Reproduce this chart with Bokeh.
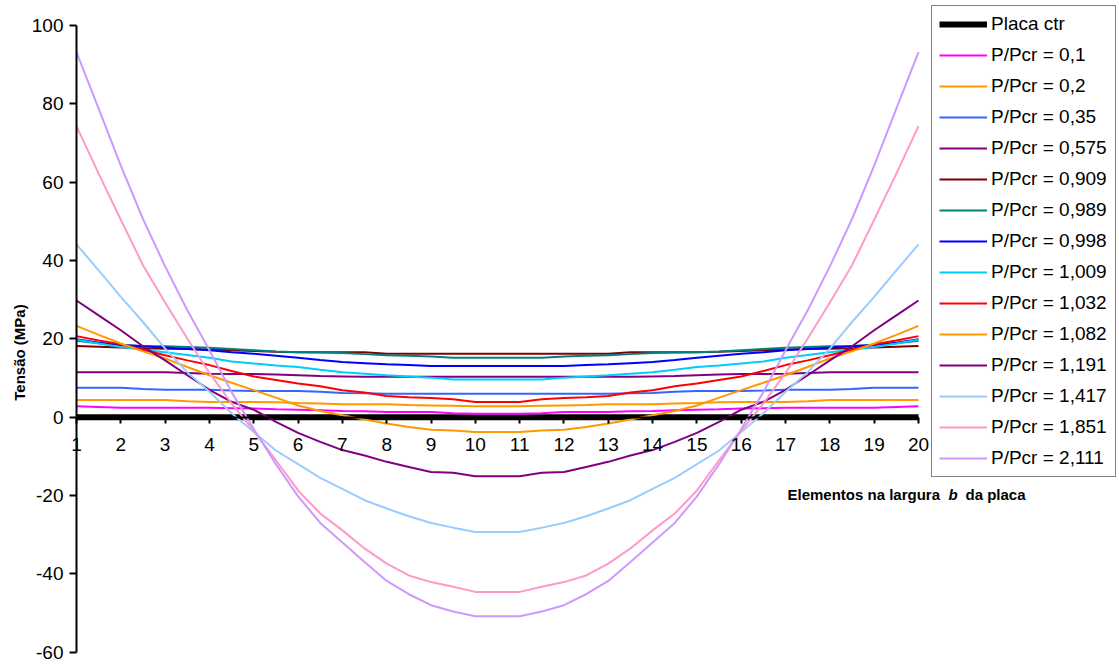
from math import pi
from bokeh.plotting import figure
from bokeh.models import (LinearAxis, FixedTicker, Legend, LegendItem, Label, Range1d)
from bokeh.embed import file_html
from bokeh.resources import INLINE

# ---------------- data ----------------
x_nodes = [1, 1.5, 2, 2.5, 3, 3.5, 4, 4.5, 5, 5.5, 6, 6.5, 7, 7.5, 8, 8.5, 9, 9.5, 10,
           10.5, 11, 11.5, 12, 12.5, 13, 13.5, 14, 14.5, 15, 15.5, 16, 16.5, 17, 17.5,
           18, 18.5, 19, 19.5, 20]

placa_x = [1, 20]
placa_y = [0, 0]

s_0100 = [2.8, 2.6, 2.4, 2.4, 2.4, 2.4, 2.4, 2.3, 2.2, 2.0, 1.9, 1.8, 1.6, 1.5, 1.3, 1.3, 1.3, 1.0, 0.9,
          0.9,
          0.9, 1.0, 1.3, 1.3, 1.3, 1.5, 1.6, 1.8, 1.9, 2.0, 2.2, 2.3, 2.4, 2.4, 2.4, 2.4, 2.4, 2.6, 2.8]
s_0200 = [4.4, 4.4, 4.4, 4.4, 4.4, 4.1, 3.9, 3.9, 3.9, 3.8, 3.6, 3.5, 3.3, 3.3, 3.3, 3.1, 3.0, 2.9, 2.8,
          2.8,
          2.8, 2.9, 3.0, 3.1, 3.3, 3.3, 3.3, 3.5, 3.6, 3.8, 3.9, 3.9, 3.9, 4.1, 4.4, 4.4, 4.4, 4.4, 4.4]
s_0350 = [7.5, 7.5, 7.5, 7.2, 7.0, 7.0, 7.0, 6.8, 6.7, 6.7, 6.7, 6.5, 6.2, 6.1, 6.0, 6.0, 6.0, 6.0, 6.0,
          6.0,
          6.0, 6.0, 6.0, 6.0, 6.0, 6.1, 6.2, 6.5, 6.7, 6.7, 6.7, 6.8, 7.0, 7.0, 7.0, 7.2, 7.5, 7.5, 7.5]
s_0575 = [11.5, 11.5, 11.5, 11.5, 11.5, 11.3, 11.1, 11.0, 11.0, 10.9, 10.7, 10.5, 10.4, 10.3, 10.3, 10.3, 10.3, 10.3, 10.3,
          10.3,
          10.3, 10.3, 10.3, 10.3, 10.3, 10.3, 10.4, 10.5, 10.7, 10.9, 11.0, 11.0, 11.1, 11.3, 11.5, 11.5, 11.5, 11.5, 11.5]
s_0909 = [18.2, 18.0, 17.8, 17.6, 17.5, 17.4, 17.3, 17.1, 16.9, 16.7, 16.6, 16.6, 16.6, 16.6, 16.2, 16.2, 16.2, 16.2, 16.2,
          16.2,
          16.2, 16.2, 16.2, 16.2, 16.2, 16.6, 16.6, 16.6, 16.6, 16.7, 16.9, 17.1, 17.3, 17.4, 17.5, 17.6, 17.8, 18.0, 18.2]
s_0989 = [19.5, 18.9, 18.4, 18.2, 18.1, 17.9, 17.7, 17.4, 17.1, 16.8, 16.6, 16.5, 16.4, 16.1, 15.8, 15.7, 15.5, 15.2, 15.2,
          15.2,
          15.2, 15.2, 15.5, 15.7, 15.8, 16.1, 16.4, 16.5, 16.6, 16.8, 17.1, 17.4, 17.7, 17.9, 18.1, 18.2, 18.4, 18.9, 19.5]
s_0998 = [19.9, 19.0, 18.4, 18.1, 17.8, 17.4, 17.1, 16.6, 16.2, 15.7, 15.2, 14.6, 14.1, 13.8, 13.5, 13.3, 13.1, 13.1, 13.1,
          13.1,
          13.1, 13.1, 13.1, 13.3, 13.5, 13.8, 14.1, 14.6, 15.2, 15.7, 16.2, 16.6, 17.1, 17.4, 17.8, 18.1, 18.4, 19.0, 19.9]
s_1009 = [19.8, 18.8, 17.9, 17.2, 16.6, 15.9, 15.2, 14.2, 13.7, 13.2, 12.8, 12.1, 11.5, 11.1, 10.7, 10.4, 10.1, 9.6, 9.6,
          9.6,
          9.6, 9.6, 10.1, 10.4, 10.7, 11.1, 11.5, 12.1, 12.8, 13.2, 13.7, 14.2, 15.2, 15.9, 16.6, 17.2, 17.9, 18.8, 19.8]
s_1032 = [20.7, 19.6, 18.6, 17.2, 15.8, 14.5, 13.3, 11.8, 10.4, 9.5, 8.6, 7.9, 6.9, 6.3, 5.4, 5.1, 4.9, 4.6, 3.9,
          3.9,
          3.9, 4.6, 4.9, 5.1, 5.4, 6.3, 6.9, 7.9, 8.6, 9.5, 10.4, 11.8, 13.3, 14.5, 15.8, 17.2, 18.6, 19.6, 20.7]
s_1082 = [23.3, 21.0, 18.8, 16.8, 15.0, 12.8, 10.7, 8.8, 6.9, 5.0, 3.0, 1.6, 0.5, -0.6, -1.6, -2.5, -3.2, -3.4, -3.8,
          -3.8,
          -3.8, -3.4, -3.2, -2.5, -1.6, -0.6, 0.5, 1.6, 3.0, 5.0, 6.9, 8.8, 10.7, 12.8, 15.0, 16.8, 18.8, 21.0, 23.3]
s_1191 = [29.8, 26.0, 22.2, 18.1, 14.5, 10.7, 7.0, 3.9, 1.9, -1.2, -4.0, -6.3, -8.4, -9.8, -11.4, -12.7, -14.0, -14.2, -15.1,
          -15.1,
          -15.1, -14.2, -14.0, -12.7, -11.4, -9.8, -8.4, -6.3, -4.0, -1.2, 1.9, 3.9, 7.0, 10.7, 14.5, 18.1, 22.2, 26.0, 29.8]
s_1417 = [44.1, 37.5, 30.7, 24.3, 17.5, 11.5, 6.5, 1.0, -3.8, -8.5, -12.0, -15.5, -18.3, -21.2, -23.3, -25.3, -27.0, -28.2, -29.3,
          -29.3,
          -29.3, -28.2, -27.0, -25.3, -23.3, -21.2, -18.3, -15.5, -12.0, -8.5, -3.8, 1.0, 6.5, 11.5, 17.5, 24.3, 30.7, 37.5, 44.1]
s_1851 = [74.3, 62.2, 50.4, 38.8, 29.3, 20.1, 11.3, 3.5, -3.5, -11.0, -18.7, -24.6, -28.9, -33.5, -37.4, -40.4, -42.1, -43.3, -44.6,
          -44.6,
          -44.6, -43.3, -42.1, -40.4, -37.4, -33.5, -28.9, -24.6, -18.7, -11.0, -3.5, 3.5, 11.3, 20.1, 29.3, 38.8, 50.4, 62.2, 74.3]
s_2111 = [93.2, 78.8, 64.2, 50.6, 38.5, 27.3, 17.1, 6.4, -3.0, -12.0, -20.2, -27.0, -32.0, -37.0, -41.8, -45.2, -48.0, -49.6, -50.8,
          -50.8,
          -50.8, -49.6, -48.0, -45.2, -41.8, -37.0, -32.0, -27.0, -20.2, -12.0, -3.0, 6.4, 17.1, 27.3, 38.5, 50.6, 64.2, 78.8, 93.2]

series_labels = ["P/Pcr = 0,1", "P/Pcr = 0,2", "P/Pcr = 0,35", "P/Pcr = 0,575", "P/Pcr = 0,909",
                 "P/Pcr = 0,989", "P/Pcr = 0,998", "P/Pcr = 1,009", "P/Pcr = 1,032", "P/Pcr = 1,082",
                 "P/Pcr = 1,191", "P/Pcr = 1,417", "P/Pcr = 1,851", "P/Pcr = 2,111"]
series_values = [s_0100, s_0200, s_0350, s_0575, s_0909, s_0989, s_0998, s_1009, s_1032, s_1082,
                 s_1191, s_1417, s_1851, s_2111]
series_colors = ["#FF00FF", "#FF9900", "#3366FF", "#800080", "#800000", "#008080", "#0000FF",
                 "#00CCFF", "#FF0000", "#FF9900", "#800080", "#99CCFF", "#FF99CC", "#CC99FF"]

x_ticks = [1, 2, 3, 4, 5, 6, 7, 8, 9, 10, 11, 12, 13, 14, 15, 16, 17, 18, 19, 20]
y_ticks = [-60, -40, -20, 0, 20, 40, 60, 80, 100]
y_tick_labels = ["-60", "-40", "-20", "0", "20", "40", "60", "80", "100"]

FONT = "Liberation Sans"

# ---------------- layout ----------------
W, H = 1119, 664
X0_PX, X1_PX = 76.0, 918.0       # pixel columns of x = 1 and x = 20
Y_TOP_PX, Y_BOT_PX = 25.0, 651.7  # pixel rows of y = 100 and y = -60
ux = (X1_PX - X0_PX) / (x_ticks[-1] - x_ticks[0])
uy = (Y_BOT_PX - Y_TOP_PX) / (y_ticks[-1] - y_ticks[0])
x_start = x_ticks[0] - X0_PX / ux
x_end = x_ticks[0] + (W - X0_PX) / ux
y_end = y_ticks[-1] + Y_TOP_PX / uy
y_start = y_ticks[-1] - (H - Y_TOP_PX) / uy

p = figure(width=W, height=H, output_backend="svg", toolbar_location=None,
           x_range=Range1d(x_start, x_end), y_range=Range1d(y_start, y_end),
           x_axis_location=None, y_axis_location=None,
           min_border=0, min_border_left=0, min_border_right=0,
           min_border_top=0, min_border_bottom=0)
p.grid.grid_line_color = None
p.outline_line_color = None
p.background_fill_color = "white"
p.border_fill_color = "white"


def style_axis(ax, tick_out, standoff):
    ax.major_label_text_font = FONT
    ax.major_label_text_font_size = "19px"
    ax.major_label_text_color = "black"
    ax.axis_line_color = "black"
    ax.axis_line_width = 2
    ax.major_tick_line_color = "black"
    ax.major_tick_line_width = 2
    ax.major_tick_out = tick_out
    ax.major_tick_in = 0
    ax.minor_tick_out = 0
    ax.minor_tick_in = 0
    ax.major_label_standoff = standoff


yax = LinearAxis(fixed_location=x_ticks[0], ticker=FixedTicker(ticks=y_ticks),
                 bounds=(y_ticks[0], y_ticks[-1]))
yax.major_label_overrides = {v: s for v, s in zip(y_ticks, y_tick_labels)}
style_axis(yax, 7, 6)
p.add_layout(yax, "left")

xax = LinearAxis(fixed_location=0, ticker=FixedTicker(ticks=x_ticks),
                 bounds=(x_ticks[0], x_ticks[-1]))
style_axis(xax, 6, 15)
p.add_layout(xax, "below")

items = []
r0 = p.line(placa_x, placa_y, line_color="black", line_width=6)
items.append(LegendItem(label="Placa ctr", renderers=[r0]))
for lab, vals, col in zip(series_labels, series_values, series_colors):
    r = p.line(x_nodes, vals, line_color=col, line_width=2)
    items.append(LegendItem(label=lab, renderers=[r]))

legend = Legend(items=items, location=(931, H - 477),
                label_text_font=FONT, label_text_font_size="19px", label_text_color="black",
                glyph_width=48, glyph_height=22, label_height=22, label_width=117,
                spacing=9, padding=7, margin=0, label_standoff=4,
                border_line_color="black", border_line_width=1,
                background_fill_color="white", background_fill_alpha=1.0)
p.add_layout(legend)

# axis titles (screen units: x from left edge, y from bottom edge)
p.add_layout(Label(x=19, y=H - 352, x_units="screen", y_units="screen",
                   text="Tensão (MPa)", angle=pi / 2, text_align="center", text_baseline="middle",
                   text_font=FONT, text_font_size="15px", text_font_style="bold", text_color="black"))
p.add_layout(Label(x=787, y=H - 494, x_units="screen", y_units="screen",
                   text="Elementos na largura", text_align="left", text_baseline="middle",
                   text_font=FONT, text_font_size="15px", text_font_style="bold", text_color="black"))
p.add_layout(Label(x=948, y=H - 494, x_units="screen", y_units="screen",
                   text="b", text_align="left", text_baseline="middle",
                   text_font=FONT, text_font_size="15px", text_font_style="bold italic", text_color="black"))
p.add_layout(Label(x=965, y=H - 494, x_units="screen", y_units="screen",
                   text="da placa", text_align="left", text_baseline="middle",
                   text_font=FONT, text_font_size="15px", text_font_style="bold", text_color="black"))

open("out.html", "w").write(file_html(p, INLINE))
